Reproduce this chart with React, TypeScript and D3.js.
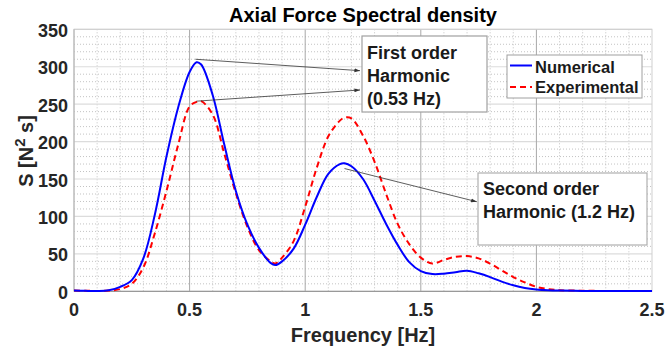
import React from "react";
import * as d3 from "d3";

const freq = [0, 0.05, 0.1, 0.15, 0.2, 0.25, 0.3, 0.35, 0.4, 0.45, 0.5, 0.53, 0.55, 0.6, 0.65, 0.7, 0.75, 0.8, 0.85, 0.87, 0.9, 0.95, 1.0, 1.05, 1.1, 1.15, 1.17, 1.2, 1.25, 1.3, 1.35, 1.4, 1.45, 1.5, 1.55, 1.6, 1.65, 1.7, 1.75, 1.8, 1.85, 1.9, 1.95, 2.0, 2.05, 2.1, 2.2, 2.3, 2.4, 2.5];
const numerical = [1, 0.6, 0.5, 1.5, 6, 15, 44, 103, 180, 245, 293, 306, 303, 262, 196, 134, 89, 58, 38, 35, 40, 57, 89, 126, 157, 170, 171, 167, 150, 121, 90, 62, 39, 27, 23, 23.5, 25.5, 27.5, 24, 19, 13, 8, 4.5, 2.5, 1.5, 1, 0.5, 0.3, 0.3, 0.3];
const experimental = [1, 0.7, 0.5, 1, 3, 10, 32, 78, 134, 195, 247, 253, 254, 236, 184, 131, 86, 55, 40, 37, 45, 67, 113, 165, 207, 228, 232, 231, 208, 173, 130, 90, 63, 45, 37, 42, 46, 47, 44, 37, 28, 19, 12, 6, 3, 1.5, 0.8, 0.5, 0.5, 0.5];

const xTicks = [0, 0.5, 1, 1.5, 2, 2.5];
const xTickLabels = ["0", "0.5", "1", "1.5", "2", "2.5"];
const yTicks = [0, 50, 100, 150, 200, 250, 300, 350];

const seriesNames = ["Numerical", "Experimental"];

export default function App() {
  const W = 667, H = 352;
  const x = d3.scaleLinear().domain([0, 2.5]).range([74, 652]);
  const y = d3.scaleLinear().domain([0, 350]).range([291.3, 29.3]);

  const line = d3
    .line<number>()
    .x((_, i) => x(freq[i]))
    .y((d) => y(Math.max(0, d)))
    .curve(d3.curveCatmullRom.alpha(0.5));

  const xMinor = d3.range(0, 2.5001, 0.1).filter((v) => Math.abs(v * 2 - Math.round(v * 2)) > 1e-6);
  const yMinor = d3.range(0, 350.001, 10).filter((v) => v % 50 !== 0);

  const font = "Arial, 'Liberation Sans', Helvetica, sans-serif";

  // annotations (data coords)
  const arrows = [
    { from: [0.525, 310], to: [x.invert(360), y.invert(70.7)] },
    { from: [0.53, 254], to: [x.invert(360), y.invert(90)] },
    { from: [1.17, 164], to: [x.invert(476.7), y.invert(201.7)] },
  ];

  return (
    <svg width={W} height={H} style={{ position: "absolute", left: 0, top: 0, background: "#fff" }} fontFamily={font}>
      <defs>
        <marker id="ah" viewBox="0 0 10 10" refX="10" refY="5" markerWidth="7" markerHeight="7" orient="auto">
          <path d="M0,1.5 L10,5 L0,8.5 z" fill="#333" />
        </marker>
      </defs>
      <rect x={0} y={0} width={W} height={H} fill="#fff" />
      {/* minor grid */}
      {xMinor.map((v, i) => (
        <line key={"xm" + i} x1={x(v)} x2={x(v)} y1={y(350)} y2={y(0)} stroke="#b4b4b4" strokeWidth={0.8} strokeDasharray="1,2" />
      ))}
      {yMinor.map((v, i) => (
        <line key={"ym" + i} x1={x(0)} x2={x(2.5)} y1={y(v)} y2={y(v)} stroke="#b4b4b4" strokeWidth={0.8} strokeDasharray="1,2" />
      ))}
      {/* major grid */}
      {yTicks.slice(1).map((v, i) => (
        <line key={"yg" + i} x1={x(0)} x2={x(2.5)} y1={y(v)} y2={y(v)} stroke="#dcdcdc" strokeWidth={1.2} />
      ))}
      {xTicks.slice(1, -1).map((v, i) => (
        <line key={"xg" + i} x1={x(v)} x2={x(v)} y1={y(350)} y2={y(0)} stroke="#a8a8a8" strokeWidth={1} />
      ))}
      {/* box */}
      <rect x={x(0)} y={y(350)} width={x(2.5) - x(0)} height={y(0) - y(350)} fill="none" stroke="#cfcfcf" strokeWidth={1} />
      <line x1={x(0)} x2={x(2.5)} y1={y(0)} y2={y(0)} stroke="#8a8a8a" strokeWidth={1} />
      <line x1={x(0)} x2={x(0)} y1={y(0)} y2={y(350)} stroke="#b0b0b0" strokeWidth={1} />

      {/* series */}
      <path d={line(experimental) || ""} fill="none" stroke="#ff0000" strokeWidth={2} strokeDasharray="6,4" />
      <path d={line(numerical) || ""} fill="none" stroke="#0000ff" strokeWidth={2} />

      {/* tick labels */}
      {xTicks.map((v, i) => (
        <text key={"xt" + i} x={x(v)} y={316} textAnchor="middle" fontSize={18} fontWeight="bold" fill="#262626">
          {xTickLabels[i]}
        </text>
      ))}
      {yTicks.map((v, i) => (
        <text key={"yt" + i} x={68} y={y(v) + 1.5} textAnchor="end" dominantBaseline="central" fontSize={18} fontWeight="bold" fill="#262626">
          {v}
        </text>
      ))}

      {/* title and labels */}
      <text x={363} y={22} textAnchor="middle" fontSize={20} fontWeight="bold" fill="#000">
        Axial Force Spectral density
      </text>
      <text x={363} y={342} textAnchor="middle" fontSize={20} fontWeight="bold" fill="#262626">
        Frequency [Hz]
      </text>
      <text transform={`translate(33,${151}) rotate(-90)`} textAnchor="middle" fontSize={20} fontWeight="bold" fill="#262626">
        S [N<tspan dy={-8} fontSize={15}>2</tspan><tspan dy={8}> s]</tspan>
      </text>

      {/* arrows */}
      {arrows.map((a, i) => (
        <line key={"ar" + i} x1={x(a.from[0])} y1={y(a.from[1])} x2={x(a.to[0])} y2={y(a.to[1])} stroke="#333" strokeWidth={0.8} markerEnd="url(#ah)" />
      ))}

      {/* annotation boxes */}
      <rect x={362} y={36} width={125} height={76} fill="#fff" stroke="#a0a0a0" strokeWidth={1.2} />
      <g fontSize={18} fontWeight="bold" fill="#1a1a1a">
        <text x={367} y={58.5}>First order</text>
        <text x={367} y={81.5}>Harmonic</text>
        <text x={367} y={104.5}>(0.53 Hz)</text>
      </g>
      <rect x={478} y={173} width={169} height={72} fill="#fff" stroke="#b0b0b0" strokeWidth={1.2} />
      <g fontSize={18} fontWeight="bold" fill="#1a1a1a">
        <text x={483} y={195}>Second order</text>
        <text x={483} y={218.3}>Harmonic (1.2 Hz)</text>
      </g>

      {/* legend */}
      <rect x={507} y={55} width={135} height={43} fill="#fff" stroke="#a0a0a0" strokeWidth={1} />
      <line x1={510} x2={532} y1={65.5} y2={65.5} stroke="#0000ff" strokeWidth={2} />
      <line x1={510} x2={532} y1={87} y2={87} stroke="#ff0000" strokeWidth={2} strokeDasharray="6,4" />
      <g fontSize={16.5} fontWeight="bold" fill="#1a1a1a">
        <text x={535} y={72.5}>{seriesNames[0]}</text>
        <text x={535} y={93.3}>{seriesNames[1]}</text>
      </g>
    </svg>
  );
}
